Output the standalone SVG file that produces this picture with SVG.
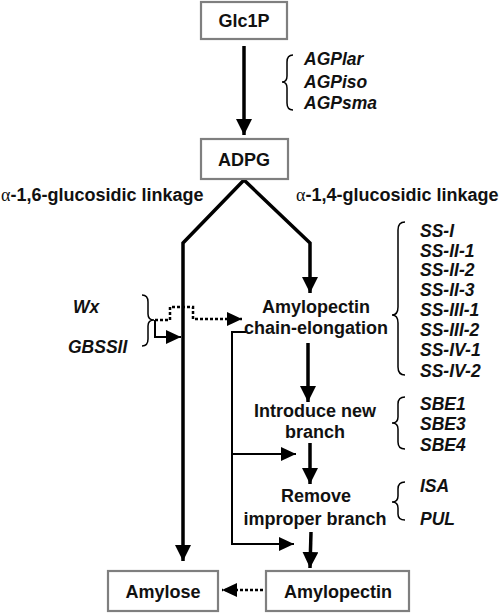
<svg xmlns="http://www.w3.org/2000/svg" width="500" height="613" viewBox="0 0 500 613">
<style>
text{font-family:"Liberation Sans",Arial,sans-serif;font-weight:bold;font-size:18px;fill:#111}
.c{text-anchor:middle}
.g{font-style:italic;font-size:17.5px}
.box{fill:#fff;stroke:#7f7f7f;stroke-width:2.2}
.thick{fill:none;stroke:#000;stroke-width:3.5}
.thin{fill:none;stroke:#000;stroke-width:2}
.dot{fill:none;stroke:#000;stroke-width:2.5;stroke-dasharray:3 2}
.br{fill:none;stroke:#000;stroke-width:1.5}
.al{font-family:"Liberation Serif",serif;font-weight:normal}
</style>
<defs>
<marker id="ah" markerUnits="userSpaceOnUse" markerWidth="16" markerHeight="16" refX="16" refY="8" orient="auto"><path d="M0,0 L16,8 L0,16 z" fill="#000"/></marker>
<marker id="as" markerUnits="userSpaceOnUse" markerWidth="16" markerHeight="16" refX="15" refY="7" orient="auto"><path d="M0,0 L15,7 L0,14 z" fill="#000"/></marker>
</defs>

<g id="connectors">
<line class="thick" x1="244" y1="46" x2="244" y2="135" marker-end="url(#ah)"/>
<polyline class="thick" points="244,180 183,243 183,561" marker-end="url(#ah)"/>
<polyline class="thick" points="244,180 310,243 310,293" marker-end="url(#ah)"/>
<line class="thick" x1="308" y1="343" x2="308" y2="402" marker-end="url(#ah)"/>
<line class="thick" x1="310" y1="443" x2="310" y2="484" marker-end="url(#ah)"/>
<line class="thick" x1="311" y1="532" x2="310" y2="568" marker-end="url(#ah)"/>
<polyline class="thin" points="246,332 232,332 232,544 294,544" marker-end="url(#as)"/>
<line class="thin" x1="232" y1="454" x2="296" y2="454" marker-end="url(#as)"/>
<line class="dot" x1="263" y1="590" x2="222" y2="590" marker-end="url(#as)"/>
<polyline class="dot" points="155,320 170,320 170,307 193,307 193,319 242,319" marker-end="url(#as)"/>
<polyline class="thin" points="155,320 155,337 181,337" marker-end="url(#as)"/>
</g>

<g id="glc1p"><rect class="box" x="201" y="2" width="86" height="37"/><text class="c" x="244" y="27">Glc1P</text></g>
<g id="adpg"><rect class="box" x="201" y="139" width="87" height="40"/><text class="c" x="244" y="166">ADPG</text></g>
<g id="amylose"><rect class="box" x="108" y="571" width="110" height="40"/><text class="c" x="163" y="598">Amylose</text></g>
<g id="amylopectin"><rect class="box" x="266" y="571" width="143" height="40"/><text class="c" x="338" y="598">Amylopectin</text></g>

<g id="agp">
<path class="br" d="M293,55 Q287,55 287,62 L287,76 Q287,82 282,82 Q287,82 287,88 L287,103 Q287,110 293,110"/>
<text class="g" x="304" y="65">AGPlar</text>
<text class="g" x="304" y="88">AGPiso</text>
<text class="g" x="304" y="109">AGPsma</text>
</g>

<g id="labels">
<text x="1" y="201"><tspan class="al">α</tspan>-1,6-glucosidic linkage</text>
<text x="296" y="201"><tspan class="al">α</tspan>-1,4-glucosidic linkage</text>
</g>

<g id="elongation">
<text class="c" x="316" y="313">Amylopectin</text>
<text class="c" x="316" y="334">chain-elongation</text>
</g>
<g id="ss">
<path class="br" d="M405,222 Q398,222 398,230 L398,307 Q398,315 392,315 Q398,315 398,323 L398,367 Q398,375 405,375"/>
<text class="g" x="420" y="237">SS-I</text>
<text class="g" x="420" y="257">SS-II-1</text>
<text class="g" x="420" y="276">SS-II-2</text>
<text class="g" x="420" y="296">SS-II-3</text>
<text class="g" x="420" y="316">SS-III-1</text>
<text class="g" x="420" y="336">SS-III-2</text>
<text class="g" x="420" y="356">SS-IV-1</text>
<text class="g" x="420" y="377">SS-IV-2</text>
</g>

<g id="introduce">
<text class="c" x="315" y="417">Introduce new</text>
<text class="c" x="315" y="438">branch</text>
</g>
<g id="sbe">
<path class="br" d="M405,397 Q398,397 398,404 L398,417 Q398,423 392,423 Q398,423 398,429 L398,442 Q398,449 405,449"/>
<text class="g" x="420" y="410">SBE1</text>
<text class="g" x="420" y="430">SBE3</text>
<text class="g" x="420" y="451">SBE4</text>
</g>

<g id="remove">
<text class="c" x="316" y="502">Remove</text>
<text class="c" x="315" y="525">improper branch</text>
</g>
<g id="isapul">
<path class="br" d="M405,482 Q398,482 398,489 L398,496 Q398,502 392,502 Q398,502 398,508 L398,514 Q398,520 405,520"/>
<text class="g" x="420" y="492">ISA</text>
<text class="g" x="420" y="525">PUL</text>
</g>

<g id="wx">
<path class="br" d="M142,295 Q148,295 148,302 L148,314 Q148,320 154,320 Q148,320 148,326 L148,339 Q148,346 142,346"/>
<text class="g" x="73" y="313">Wx</text>
<text class="g" x="68" y="353">GBSSII</text>
</g>
</svg>
